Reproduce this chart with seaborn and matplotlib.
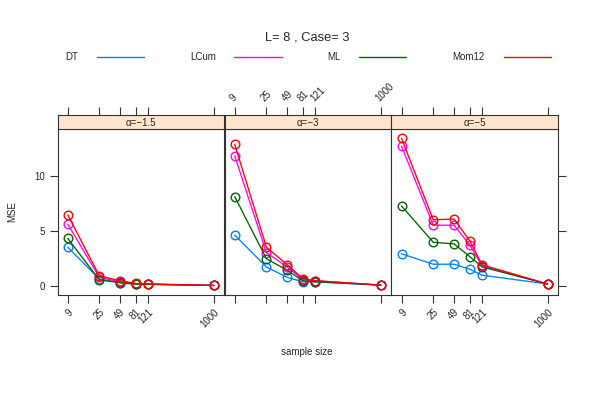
import matplotlib
matplotlib.use("Agg")
import matplotlib.pyplot as plt
from matplotlib.lines import Line2D
from matplotlib.ticker import NullLocator
import seaborn as sns
import pandas as pd
import numpy as np

sns.set_style("white")
plt.rcParams['font.family'] = ['Liberation Sans', 'DejaVu Sans']

sample_sizes = [9, 25, 49, 81, 121, 1000]
methods = ["DT", "LCum", "ML", "Mom12"]
panels = ["α=−1.5", "α=−3", "α=−5"]
colors = ["#0080ff", "#ff00ff", "#006400", "#ff0000"]

# MSE values per panel
p1_DT = [3.5, 0.6, 0.27, 0.14, 0.12, 0.02]
p1_LCum = [5.6, 0.75, 0.35, 0.18, 0.14, 0.02]
p1_ML = [4.3, 0.52, 0.27, 0.14, 0.12, 0.02]
p1_Mom12 = [6.45, 0.88, 0.45, 0.2, 0.16, 0.02]

p2_DT = [4.6, 1.7, 0.75, 0.35, 0.35, 0.05]
p2_LCum = [11.8, 3.0, 1.7, 0.55, 0.45, 0.05]
p2_ML = [8.1, 2.45, 1.4, 0.45, 0.35, 0.05]
p2_Mom12 = [12.85, 3.5, 1.9, 0.64, 0.45, 0.05]

p3_DT = [2.9, 1.95, 1.95, 1.5, 0.95, 0.15]
p3_LCum = [12.7, 5.5, 5.5, 3.7, 1.8, 0.15]
p3_ML = [7.25, 3.95, 3.8, 2.65, 1.7, 0.15]
p3_Mom12 = [13.4, 6.0, 6.05, 4.1, 1.9, 0.15]

panel_data = [
    [p1_DT, p1_LCum, p1_ML, p1_Mom12],
    [p2_DT, p2_LCum, p2_ML, p2_Mom12],
    [p3_DT, p3_LCum, p3_ML, p3_Mom12],
]

W, H = 598, 399
fig = plt.figure(figsize=(W / 100, H / 100), dpi=100)

px_left = [57.5, 224.5, 391.3]
px_w = 166.8
py_top, py_bot, py_strip = 129, 295, 115
xlim = (10 ** 0.811, 10 ** 3.147)
ylim = (-0.85, 14.25)
fs = 7
tick_len = 5.7
axc = "#333333"

for i, pname in enumerate(panels):
    rows = []
    for m, vals in zip(methods, panel_data[i]):
        for n, v in zip(sample_sizes, vals):
            rows.append({"n": n, "mse": v, "method": m})
    df = pd.DataFrame(rows)
    ax = fig.add_axes([px_left[i] / W, 1 - py_bot / H, px_w / W, (py_bot - py_top) / H])
    sns.lineplot(data=df, x="n", y="mse", hue="method", hue_order=methods,
                 palette=colors, marker="o", markersize=6.2, markerfacecolor="none",
                 markeredgewidth=1.0, linewidth=0.95, legend=False, ax=ax)
    for line, c in zip(ax.get_lines(), colors):
        line.set_markeredgecolor(c)
    ax.set_xscale("log")
    ax.set_xlim(*xlim)
    ax.set_ylim(*ylim)
    ax.xaxis.set_minor_locator(NullLocator())
    ax.set_xticks(sample_sizes)
    ax.set_xlabel("")
    ax.set_ylabel("")
    for s in ax.spines.values():
        s.set_color(axc)
        s.set_linewidth(0.8)
    if i in (0, 2):
        ax.set_xticklabels([str(n) for n in sample_sizes], rotation=45,
                           ha="right", va="top", rotation_mode="anchor", fontsize=fs)
    else:
        ax.set_xticklabels([])
    ax.tick_params(axis="x", bottom=True, direction="out", length=tick_len,
                   width=0.8, color=axc, pad=3)
    ax.set_yticks([0, 5, 10])
    if i == 0:
        ax.set_yticklabels(["0", "5", "10"], fontsize=fs)
        ax.tick_params(axis="y", left=True, right=False, direction="out",
                       length=tick_len, width=0.8, color=axc, pad=3)
    elif i == 2:
        ax.yaxis.tick_right()
        ax.set_yticklabels([])
        ax.tick_params(axis="y", left=False, right=True, direction="out",
                       length=tick_len, width=0.8, color=axc)
    else:
        ax.set_yticklabels([])
        ax.tick_params(axis="y", left=False, right=False)

    sax = fig.add_axes([px_left[i] / W, 1 - py_top / H, px_w / W, (py_top - py_strip) / H])
    sax.set_facecolor("#ffe5cc")
    sax.set_xscale("log")
    sax.set_xlim(*xlim)
    sax.set_ylim(0, 1)
    sax.xaxis.set_minor_locator(NullLocator())
    sax.set_yticks([])
    sax.xaxis.tick_top()
    sax.set_xticks(sample_sizes)
    if i == 1:
        sax.set_xticklabels([str(n) for n in sample_sizes], rotation=45,
                            ha="left", va="bottom", rotation_mode="anchor", fontsize=fs)
    else:
        sax.set_xticklabels([])
    sax.tick_params(axis="x", top=True, bottom=False, direction="out",
                    length=tick_len, width=0.8, color=axc, pad=3)
    for s in sax.spines.values():
        s.set_color(axc)
        s.set_linewidth(0.8)
    sax.text(0.5, 0.45, pname, transform=sax.transAxes, ha="center", va="center",
             fontsize=fs)

# Title
fig.text(307 / W, 1 - 38 / H, "L= 8 , Case= 3", ha="center", va="center", fontsize=9.3)

# Legend
leg_y = 1 - 57 / H
text_x = [72, 203, 334, 468]
line_x = [(97, 144), (234, 282), (359, 406), (504, 551)]
for m, c, tx, (l0, l1) in zip(methods, colors, text_x, line_x):
    fig.text(tx / W, leg_y, m, ha="center", va="center", fontsize=fs)
    fig.add_artist(Line2D([l0 / W, l1 / W], [leg_y, leg_y], color=c, linewidth=1.0,
                          transform=fig.transFigure))

fig.text(307 / W, 1 - 352 / H, "sample size", ha="center", va="center", fontsize=fs)
fig.text(12 / W, 1 - 212 / H, "MSE", ha="center", va="center", rotation=90, fontsize=fs)

fig.savefig("out.png", dpi=100)
